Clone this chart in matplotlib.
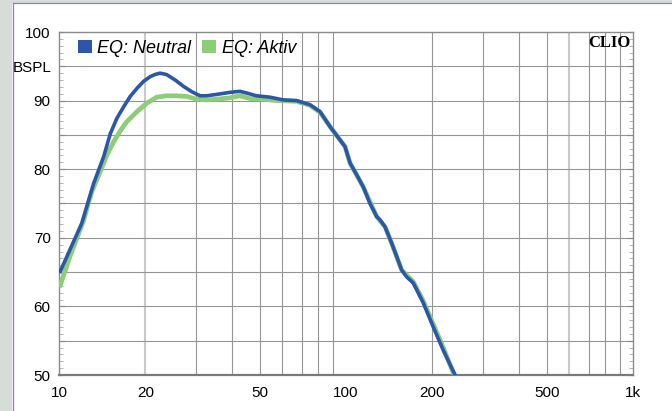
import numpy as np
import matplotlib
matplotlib.use("Agg")
import matplotlib.pyplot as plt
from matplotlib.patches import Patch, Rectangle
from matplotlib.lines import Line2D
from matplotlib.ticker import FixedLocator, MultipleLocator, FuncFormatter

plt.rcParams["font.family"] = ["Liberation Sans", "DejaVu Sans"]

# frequency response
f_neutral = [10.1, 10.9, 12.0, 13.2, 14.3, 15.1, 15.9, 16.8, 17.7, 18.7, 19.7,
             20.8, 21.6, 22.5, 23.7, 25.4, 27.1, 29.0, 31.0, 32.7, 35.4, 39.4,
             42.7, 45.1, 48.8, 54.3, 60.5, 67.3, 74.9, 81.2, 88, 99.2, 103.3,
             108.9, 114.9, 121.2, 127.9, 131.4, 136.8, 144.3, 150.1, 156.3,
             162.7, 171.6, 185.9, 201.4, 218.2, 240]
db_neutral = [65.1, 68.2, 72.1, 77.9, 81.8, 85.2, 87.4, 89.1, 90.6, 91.8, 92.8,
              93.5, 93.8, 94.0, 93.8, 93.0, 92.1, 91.3, 90.7, 90.7, 90.9, 91.2,
              91.35, 91.1, 90.7, 90.5, 90.1, 90.0, 89.4, 88.4, 86.2, 83.3, 80.9,
              79.2, 77.4, 75.0, 73.1, 72.6, 71.6, 69.2, 67.3, 65.3,
              64.3, 63.4, 60.5, 57.0, 53.6, 50.0]

f_aktiv = [10.1, 10.9, 12.2, 13.0, 13.9, 14.7, 15.5, 16.3, 17.2, 18.7, 20.2,
           21.9, 23.7, 25.7, 27.9, 30.2, 32.7, 35.4, 39.4, 42.7, 46.3, 51.5,
           57.4, 67.3, 74.9, 81.2, 88, 99.2, 103.3, 114.9, 127.9, 136.8, 144.3,
           156.3, 171.6, 185.9, 201.4, 218.2, 238]
db_aktiv = [63.1, 67.2, 72.6, 76.7, 79.6, 82.1, 84.0, 85.5, 86.9, 88.4, 89.6,
            90.5, 90.7, 90.7, 90.6, 90.2, 90.1, 90.2, 90.4, 90.7, 90.3, 90.2,
            90.0, 89.9, 89.3, 88.3, 86.2, 83.3, 80.9, 77.4, 73.1, 71.6, 69.2,
            65.3, 63.6, 60.8, 57.4, 54.0, 50.0]

series_names = ["EQ: Neutral", "EQ: Aktiv"]
x_ticks = [10, 20, 50, 100, 200, 500, 1000]
x_ticklabels = ["10", "20", "50", "100", "200", "500", "1k"]
x_grid = [v * d for d in (10, 100) for v in range(2, 10)]
x_grid_light = [20, 100, 600]

BLUE = "#2b57ab"
GREEN = "#8ccd78"
GRID = "#959595"

fig = plt.figure(figsize=(6.72, 4.11), dpi=100, facecolor="white")

# grey frame strips with purple edge
fig.patches.append(Rectangle((0, 0), 12 / 672, 1, transform=fig.transFigure,
                             facecolor="#d6ddd9", edgecolor="none", zorder=0))
fig.patches.append(Rectangle((0, 1 - 3 / 411), 1, 3 / 411,
                             transform=fig.transFigure,
                             facecolor="#d6ddd9", edgecolor="none", zorder=0))
fig.lines.append(Line2D([12.5 / 672, 12.5 / 672], [0, 1 - 3.5 / 411],
                        transform=fig.transFigure, color="#9d74bd", lw=0.9))
fig.lines.append(Line2D([12.5 / 672, 1], [1 - 3.5 / 411, 1 - 3.5 / 411],
                        transform=fig.transFigure, color="#9d74bd", lw=0.9))

ax = fig.add_axes([59 / 672, 36 / 411, 574 / 672, 343 / 411])
ax.set_xscale("log")
ax.set_xlim(10, 1000)
ax.set_ylim(50, 100)

for v in x_grid:
    light = v in x_grid_light
    ax.axvline(v, color="#cacaca" if light else GRID,
               lw=1.5 if light else 0.8, zorder=1)
for v in range(55, 100, 5):
    ax.axhline(v, color=GRID, lw=0.8, zorder=1)

ax.plot(f_aktiv, db_aktiv, color=GREEN, lw=3.4, zorder=3,
        solid_joinstyle="round")
ax.plot(f_neutral, db_neutral, color=BLUE, lw=2.6, zorder=4,
        solid_joinstyle="round")

ax.xaxis.set_major_locator(FixedLocator(x_ticks))
ax.set_xticklabels(x_ticklabels)
ax.xaxis.set_minor_locator(FixedLocator([]))
ax.tick_params(axis="x", which="both", length=0, pad=8, labelsize=11)

ax.yaxis.set_major_locator(MultipleLocator(5))
ax.yaxis.set_minor_locator(MultipleLocator(1))
ax.yaxis.set_major_formatter(
    FuncFormatter(lambda v, p: f"{v:.0f}" if v % 10 == 0 else ""))
ax.tick_params(axis="y", which="major", direction="in", length=4,
               left=True, right=True, color="#888888", pad=6, labelsize=11)
ax.tick_params(axis="y", which="minor", direction="in", length=3,
               left=True, right=True, color="#aaaaaa")

for s in ("left", "right", "top"):
    ax.spines[s].set_color("#8a8a8a")
    ax.spines[s].set_linewidth(1.0)
ax.spines["bottom"].set_color("#7a7a7a")
ax.spines["bottom"].set_linewidth(1.6)

handles = [Patch(facecolor=BLUE, edgecolor="none"),
           Patch(facecolor=GREEN, edgecolor="none")]
ax.legend(handles, series_names, loc="upper left",
          bbox_to_anchor=(0.033, 0.978), ncol=2, frameon=False,
          handlelength=0.78, handleheight=0.78, handletextpad=0.3,
          columnspacing=0.6, borderpad=0, borderaxespad=0,
          prop={"style": "italic", "size": 13})

ax.text(0.996, 0.99, "CLIO", transform=ax.transAxes, ha="right", va="top",
        family=["Liberation Serif", "DejaVu Serif"], weight="bold",
        fontsize=12, zorder=5)
fig.text(13 / 672, 1 - 68 / 411, "BSPL", ha="left", va="center", fontsize=11)

fig.savefig("out.png", dpi=100, facecolor="white")
